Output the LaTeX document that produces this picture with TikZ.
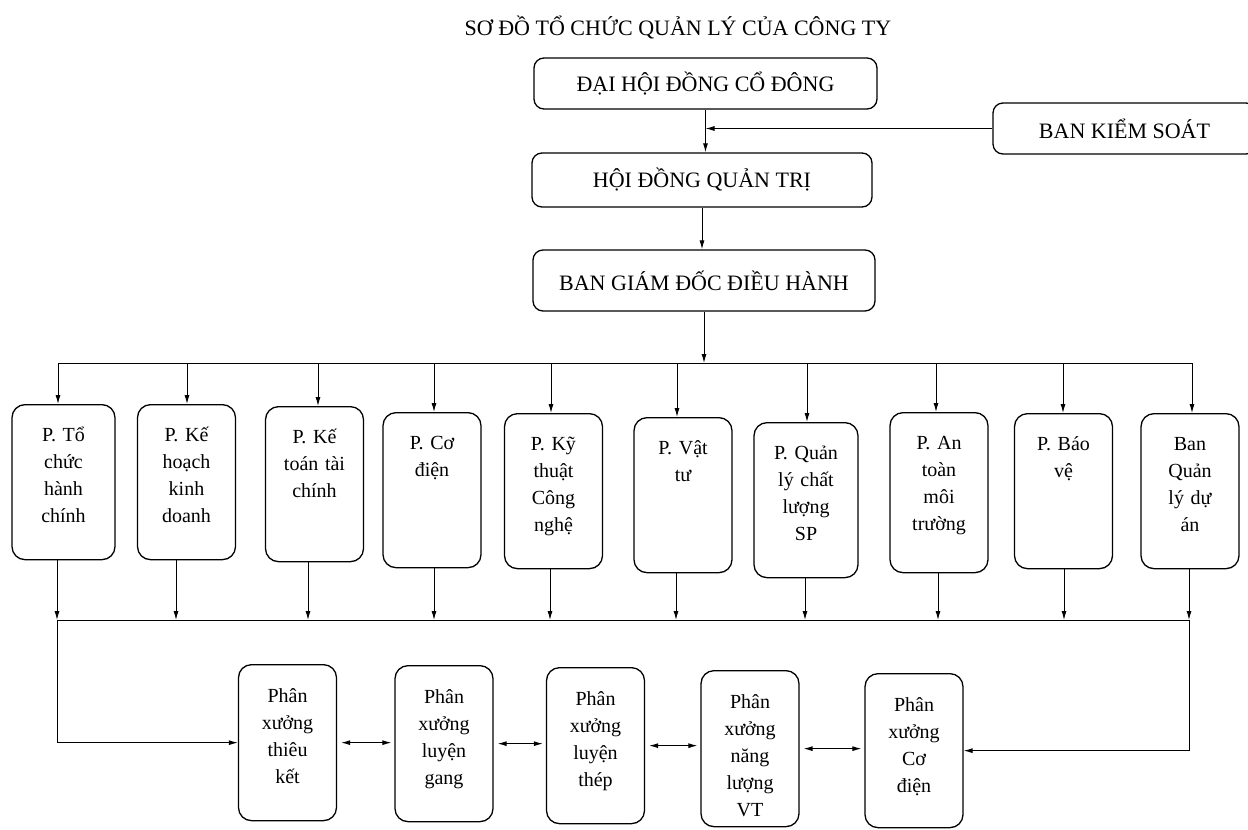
\documentclass[tikz,border=0pt]{standalone}
\usepackage{fontspec}
\setmainfont{Liberation Serif}
\usetikzlibrary{arrows.meta}
\tikzset{>={Latex[length=9pt,width=5pt]}}
\tikzset{
  khung/.style={draw, line width=1.3pt, rounded corners=10pt, minimum width=340pt, minimum height=52pt, font=\fontsize{22}{26}\selectfont},
  phong/.style={draw, line width=1.3pt, rounded corners=13pt, anchor=north, align=center, inner sep=0pt, text width=98pt, text height=37pt, text depth=118pt, font=\fontsize{20}{27}\selectfont},
  xuong/.style={phong, text height=38pt, text depth=118pt},
  noi/.style={line width=1pt}
}

\begin{document}
\begin{tikzpicture}[x=1pt, y=-1pt]
    \fill[white] (0,0) rectangle (1248,830);
    \useasboundingbox (0,0) rectangle (1248,830);

    % cap tren
    \node[font=\fontsize{22}{26}\selectfont] (tieude) at (678,28) {SƠ ĐỒ TỔ CHỨC QUẢN LÝ CỦA CÔNG TY};
    \node[khung, minimum width=343pt, minimum height=51pt] (dhdcd) at (705.5,83.5) {ĐẠI HỘI ĐỒNG CỔ ĐÔNG};
    \node[khung, minimum width=263pt, minimum height=51pt] (bks) at (1124.5,128.5) {BAN KIỂM SOÁT};
    \node[khung, minimum height=54pt] (hdqt) at (702,180) {HỘI ĐỒNG QUẢN TRỊ};
    \node[khung, minimum width=342pt, minimum height=61pt] (bgd) at (704,280.5) {BAN GIÁM ĐỐC ĐIỀU HÀNH};

    \draw[noi, ->] (dhdcd.south) -- (dhdcd.south |- hdqt.north);
    \draw[noi, ->] (bks.west) -- (bks.west -| dhdcd.south);
    \draw[noi, ->] (hdqt.south) -- (hdqt.south |- bgd.north);

    \coordinate (trenT) at (58,363);
    \coordinate (trenP) at (1192,363);
    \coordinate (duoiT) at (57,620);
    \coordinate (duoiP) at (1189,620);
    \draw[noi, ->] (bgd.south) -- (bgd.south |- trenT);
    \draw[noi] (trenT) -- (trenP);

    % cac phong ban
    \node[phong, text width=103pt] (d1) at (63.5,404) {P. Tổ\\chức\\hành\\chính};
    \node[phong] (d2) at (186.5,404) {P. Kế\\hoạch\\kinh\\doanh};
    \node[phong] (d3) at (314.5,406) {P. Kế\\toán tài\\chính};
    \node[phong] (d4) at (432,412) {P. Cơ\\điện};
    \node[phong] (d5) at (553.5,413) {P. Kỹ\\thuật\\Công\\nghệ};
    \node[phong] (d6) at (683,417) {P. Vật\\tư};
    \node[phong, text width=104pt] (d7) at (806,422) {P. Quản\\lý chất\\lượng\\SP};
    \node[phong, text depth=123pt] (d8) at (939,412) {P. An\\toàn\\môi\\trường};
    \node[phong] (d9) at (1063.5,413) {P. Báo\\vệ};
    \node[phong] (d10) at (1190,413) {Ban\\Quản\\lý dự\\án};

    \foreach \i/\dx/\ex in {1/-5.5/-6.5, 2/0.5/-10.5, 3/3.5/-6.5, 4/2/2, 5/-2.5/-3.5,
                            6/-6/-7, 7/1/-1, 8/-3/-1, 9/-0.5/0.5, 10/2/-1} {
        \path (d\i.north) ++(\dx,0) coordinate (vao\i);
        \path (d\i.south) ++(\ex,0) coordinate (ra\i);
        \draw[noi, ->] (vao\i |- trenT) -- (vao\i);
        \draw[noi, ->] (ra\i) -- (ra\i |- duoiT);
    }
    \draw[noi] (duoiT) -- (duoiP);

    % cac phan xuong
    \node[xuong] (b1) at (287.5,664) {Phân\\xưởng\\thiêu\\kết};
    \node[xuong] (b2) at (444,665) {Phân\\xưởng\\luyện\\gang};
    \node[xuong] (b3) at (595.5,667) {Phân\\xưởng\\luyện\\thép};
    \node[xuong] (b4) at (750,670) {Phân\\xưởng\\năng\\lượng\\VT};
    \node[xuong, text depth=116pt] (b5) at (914,673) {Phân\\xưởng\\Cơ\\điện};

    \draw[noi, ->] (duoiT) |- (b1.west);
    \draw[noi, ->] (duoiP) |- (b5.east);
    \draw[noi, <->, shorten <=4pt, shorten >=3pt] (b1.east) -- (b1.east -| b2.west);
    \draw[noi, <->, shorten <=4pt, shorten >=3pt] (b2.east) -- (b2.east -| b3.west);
    \draw[noi, <->, shorten <=4pt, shorten >=3pt] (b3.east) -- (b3.east -| b4.west);
    \draw[noi, <->, shorten <=4pt, shorten >=3pt] (b4.east) -- (b4.east -| b5.west);
\end{tikzpicture}
\end{document}
